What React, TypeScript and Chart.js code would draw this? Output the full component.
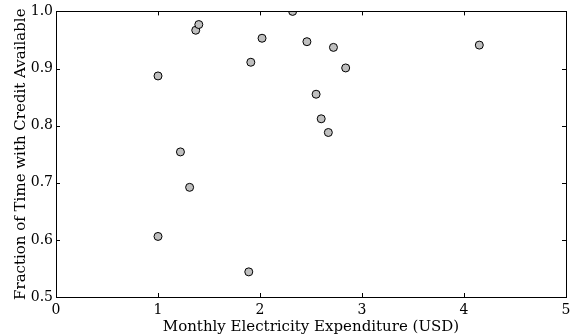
import React, { useEffect, useRef } from "react";
import { Chart, registerables } from "chart.js";

Chart.register(...registerables);

const xValues = [1.0, 1.0, 1.22, 1.31, 1.37, 1.4, 1.89, 1.91, 2.02, 2.32, 2.46, 2.55, 2.6, 2.67, 2.72, 2.84, 4.15];
const yValues = [0.887, 0.606, 0.754, 0.692, 0.967, 0.977, 0.544, 0.911, 0.953, 1.0, 0.947, 0.855, 0.812, 0.788, 0.937, 0.901, 0.941];
const xTicks = [0, 1, 2, 3, 4, 5];
const yTicks = [0.5, 0.6, 0.7, 0.8, 0.9, 1.0];
const xTitle = "Monthly Electricity Expenditure (USD)";
const yTitle = "Fraction of Time with Credit Available";

const FONT = "'DejaVu Serif', serif";

const boxTicks = {
  id: "boxTicks",
  afterDraw(chart: any) {
    const { ctx, chartArea, scales } = chart;
    const { left, right, top, bottom } = chartArea;
    const len = 4;
    ctx.save();
    ctx.strokeStyle = "#000";
    ctx.lineWidth = 1;
    ctx.beginPath();
    xTicks.forEach((v) => {
      const px = Math.round(scales.x.getPixelForValue(v)) + 0.5;
      ctx.moveTo(px, bottom);
      ctx.lineTo(px, bottom - len);
      ctx.moveTo(px, top);
      ctx.lineTo(px, top + len);
    });
    yTicks.forEach((v) => {
      const py = Math.round(scales.y.getPixelForValue(v)) + 0.5;
      ctx.moveTo(left, py);
      ctx.lineTo(left + len, py);
      ctx.moveTo(right, py);
      ctx.lineTo(right - len, py);
    });
    ctx.stroke();
    ctx.strokeRect(Math.round(left) + 0.5, Math.round(top) + 0.5, Math.round(right - left), Math.round(bottom - top));
    ctx.restore();
  },
};

export default function App() {
  const ref = useRef<HTMLCanvasElement | null>(null);
  useEffect(() => {
    document.body.style.margin = "0";
    const chart = new Chart(ref.current as HTMLCanvasElement, {
      type: "scatter",
      data: {
        datasets: [
          {
            data: xValues.map((x, i) => ({ x, y: yValues[i] })),
            pointRadius: 4,
            pointHoverRadius: 4,
            backgroundColor: "#bfbfbf",
            borderColor: "#000",
            borderWidth: 1,
            clip: 0,
          } as any,
        ],
      },
      options: {
        animation: false,
        responsive: false,
        maintainAspectRatio: false,
        layout: { padding: { top: 10, right: 10, left: 0, bottom: 0 } },
        plugins: { legend: { display: false }, tooltip: { enabled: false } },
        scales: {
          x: {
            type: "linear",
            min: 0,
            max: 5,
            afterBuildTicks: (s: any) => {
              s.ticks = xTicks.map((v) => ({ value: v }));
            },
            afterFit: (s: any) => {
              s.height = 39;
            },
            grid: { display: false, drawTicks: false, tickLength: 0 },
            border: { display: false },
            ticks: {
              color: "#000",
              font: { family: FONT, size: 14 },
              padding: 5,
              maxRotation: 0,
              callback: (v: any) => String(v),
            },
            title: {
              display: true,
              text: xTitle,
              color: "#000",
              font: { family: FONT, size: 15 },
              padding: { top: 3, bottom: 0 },
            },
          },
          y: {
            type: "linear",
            min: 0.5,
            max: 1.0,
            afterBuildTicks: (s: any) => {
              s.ticks = yTicks.map((v) => ({ value: v }));
            },
            afterFit: (s: any) => {
              s.width = 56;
            },
            grid: { display: false, drawTicks: false, tickLength: 0 },
            border: { display: false },
            ticks: {
              color: "#000",
              font: { family: FONT, size: 14 },
              padding: 3,
              callback: (v: any) => Number(v).toFixed(1),
            },
            title: {
              display: true,
              text: yTitle,
              color: "#000",
              font: { family: FONT, size: 15 },
              padding: { top: 12, bottom: 0 },
            },
          },
        },
      },
      plugins: [boxTicks],
    });
    return () => chart.destroy();
  }, []);
  return <canvas ref={ref} width={576} height={336} style={{ display: "block" }} />;
}
